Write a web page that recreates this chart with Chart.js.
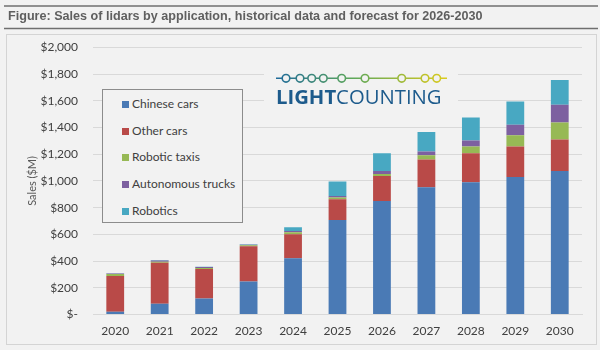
<!DOCTYPE html>
<html>
<head>
<meta charset="utf-8">
<script src="https://cdn.jsdelivr.net/npm/chart.js@4.4.1/dist/chart.umd.min.js"></script>
<style>
  html, body { margin: 0; padding: 0; background: #f2f2f2; }
  #wrap { position: relative; width: 600px; height: 350px; overflow: hidden; }
  #c { position: absolute; left: 0; top: 0; }
  #legend {
    position: absolute; left: 102px; top: 89px; width: 141px; height: 134px;
    border: 1px solid #8c8c8c; background: #f2f2f2; box-sizing: border-box;
    font-family: Lato, "Open Sans", sans-serif; font-size: 12px; color: #404040;
  }
  #legend .item { position: absolute; left: 19px; height: 14px; line-height: 14px; white-space: nowrap; }
  #legend .sw { display: inline-block; width: 7px; height: 7px; margin-right: 3px; vertical-align: 0px; }
</style>
</head>
<body>
<div id="wrap">
  <canvas id="c" width="600" height="350"></canvas>
  <div id="legend"></div>
</div>
<script>
const categories = ['2020', '2021', '2022', '2023', '2024', '2025', '2026', '2027', '2028', '2029', '2030'];
const seriesNames = ['Chinese cars', 'Other cars', 'Robotic taxis', 'Autonomous trucks', 'Robotics'];
const chineseCars      = [20, 80, 120, 247, 421, 707, 850, 952, 990, 1030, 1075];
const otherCars        = [268, 308, 221, 264, 180, 155, 187, 208, 217, 227, 235];
const roboticTaxis     = [16, 6, 8, 8, 15, 13, 15, 32, 50, 85, 127];
const autonomousTrucks = [2, 10, 6, 4, 9, 12, 23, 28, 45, 78, 133];
const robotics         = [3, 4, 3, 3, 28, 108, 132, 147, 173, 175, 186];
const yTicks = [0, 200, 400, 600, 800, 1000, 1200, 1400, 1600, 1800, 2000];
const titleText = 'Figure: Sales of lidars by application, historical data and forecast for 2026-2030';
const colors = ['#4a7ab5', '#b94a48', '#97b955', '#7d60a0', '#48a8c2'];

const seriesValues = [chineseCars, otherCars, roboticTaxis, autonomousTrucks, robotics];

// HTML legend
const legendEl = document.getElementById('legend');
seriesNames.forEach((name, i) => {
  const d = document.createElement('div');
  d.className = 'item';
  d.style.top = (7 + i * 26.7) + 'px';
  d.innerHTML = '<span class="sw" style="background:' + colors[i] + '"></span>' + name;
  legendEl.appendChild(d);
});

const decorPlugin = {
  id: 'decor',
  beforeDraw(chart) {
    const ctx = chart.ctx;
    ctx.save();
    ctx.fillStyle = '#f2f2f2';
    ctx.fillRect(0, 0, 600, 350);
    // title lines
    ctx.strokeStyle = '#6f6f6f';
    ctx.lineWidth = 1.5;
    ctx.beginPath(); ctx.moveTo(4, 6); ctx.lineTo(598, 6); ctx.stroke();
    ctx.beginPath(); ctx.moveTo(4, 28.5); ctx.lineTo(598, 28.5); ctx.stroke();
    // panel
    ctx.lineWidth = 1;
    ctx.strokeStyle = '#d4d4d4';
    ctx.strokeRect(6.5, 34.5, 590, 310);
    ctx.restore();
  },
  afterDraw(chart) {
    const ctx = chart.ctx;
    ctx.save();
    // logo background
    ctx.fillStyle = '#f2f2f2';
    ctx.fillRect(264, 62, 194, 46);
    const grad = ctx.createLinearGradient(276, 0, 447, 0);
    grad.addColorStop(0, '#1f6a9a');
    grad.addColorStop(0.45, '#5ea85a');
    grad.addColorStop(1, '#dccb1e');
    ctx.strokeStyle = grad;
    ctx.lineWidth = 1.6;
    ctx.beginPath(); ctx.moveTo(276, 78.3); ctx.lineTo(447, 78.3); ctx.stroke();
    const cx = [286, 300, 311.7, 323.3, 341.7, 365, 401.7, 425, 436.7];
    cx.forEach(x => {
      ctx.beginPath();
      ctx.arc(x, 78.3, 3.8, 0, Math.PI * 2);
      ctx.fillStyle = '#f2f2f2';
      ctx.fill();
      ctx.stroke();
    });
    ctx.fillStyle = '#1d5b8c';
    ctx.textBaseline = 'alphabetic';
    ctx.font = 'bold 20.3px "Open Sans", sans-serif';
    ctx.fillText('LIGHT', 276, 103.5);
    const w = ctx.measureText('LIGHT').width;
    ctx.font = '20.3px "Open Sans", sans-serif';
    ctx.fillText('COUNTING', 276 + w, 103.5);
    ctx.restore();
  }
};

const datasets = seriesNames.map((name, i) => ({
  label: name,
  data: seriesValues[i],
  backgroundColor: colors[i],
  borderWidth: 0,
  categoryPercentage: 1,
  barPercentage: 0.4
}));

new Chart(document.getElementById('c'), {
  type: 'bar',
  data: { labels: categories, datasets },
  plugins: [decorPlugin],
  options: {
    responsive: false,
    devicePixelRatio: 1,
    animation: false,
    layout: { padding: { left: 8, right: 18, top: 0, bottom: 0 } },
    plugins: {
      legend: { display: false },
      tooltip: { enabled: false },
      title: {
        display: true,
        text: titleText,
        align: 'start',
        color: '#5f5f5f',
        font: { family: 'Arial, "Liberation Sans", sans-serif', size: 12.6, weight: 'bold', lineHeight: 1.2 },
        padding: { top: 9.4, bottom: 22.8 }
      }
    },
    scales: {
      x: {
        stacked: true,
        grid: { display: false, drawTicks: false },
        border: { display: true, color: '#d9d9d9', width: 1 },
        ticks: { color: '#404040', font: { family: 'Lato, sans-serif', size: 12 }, padding: 9, maxRotation: 0 },
        afterFit(s) { s.height = 35.5; }
      },
      y: {
        stacked: true,
        min: 0, max: 2000,
        afterBuildTicks(s) { s.ticks = yTicks.map(v => ({ value: v })); },
        grid: { color: '#d9d9d9', lineWidth: 1, drawTicks: false },
        border: { display: false },
        ticks: {
          color: '#404040',
          font: { family: 'Lato, sans-serif', size: 12 },
          padding: 15,
          callback: v => v === 0 ? '$-' : '$' + v.toLocaleString('en-US')
        },
        title: {
          display: true,
          text: 'Sales ($M)',
          color: '#595959',
          font: { family: 'Lato, sans-serif', size: 11 },
          padding: { top: 18, bottom: 0 }
        },
        afterFit(s) { s.width = 85; }
      }
    }
  }
});
</script>
</body>
</html>
